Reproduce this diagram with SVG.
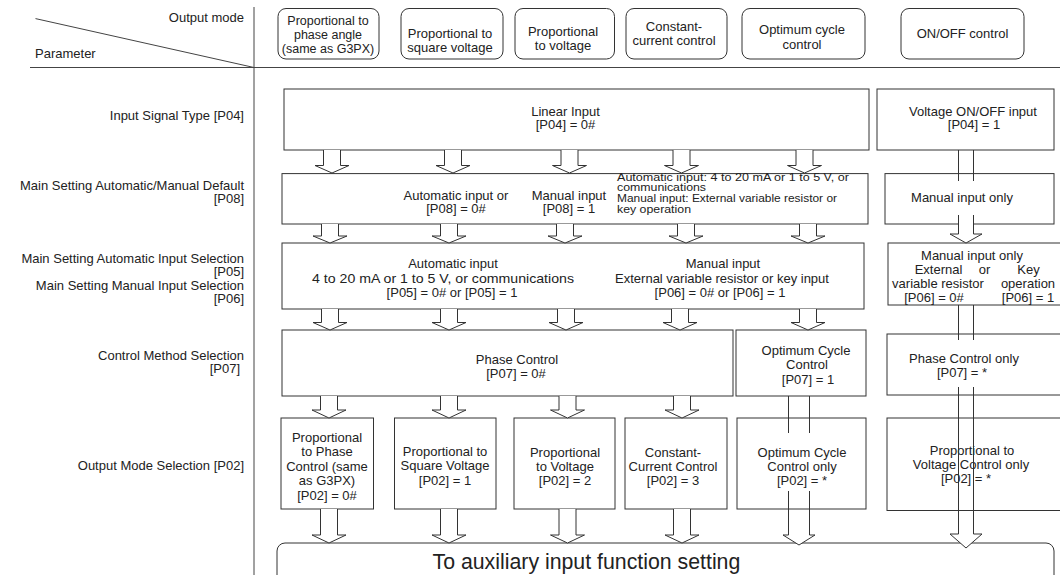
<svg xmlns="http://www.w3.org/2000/svg" width="1060" height="575" viewBox="0 0 1060 575">
<style>
text{font-family:"Liberation Sans",Arial,sans-serif;font-size:13px;fill:#222}
.c{text-anchor:middle}
.r{text-anchor:end}
.s{font-size:11px}
.box{fill:#fff;stroke:#333;stroke-width:1}
.hdr{fill:#fff;stroke:#333;stroke-width:1}
.ln{fill:none;stroke:#444;stroke-width:1}
.arr{fill:#fff;stroke:#333;stroke-width:1}
.sh{fill:none;stroke:#333;stroke-width:1}
</style>
<rect width="1060" height="575" fill="#fff"/>
<g id="grid">
<line class="ln" x1="35.5" y1="18.6" x2="254" y2="67.5"/>
<line class="ln" x1="30" y1="67.5" x2="1060" y2="67.5"/>
<line class="ln" x1="254" y1="7" x2="254" y2="575"/>
<text class="r" x="244" y="22">Output mode</text>
<text x="35" y="58">Parameter</text>
</g>
<g id="labels">
<text class="r" x="244" y="120">Input Signal Type [P04]</text>
<text class="r" x="244" y="190">Main Setting Automatic/Manual Default</text>
<text class="r" x="244" y="203">[P08]</text>
<text class="r" x="244" y="263">Main Setting Automatic Input Selection</text>
<text class="r" x="244" y="276">[P05]</text>
<text class="r" x="244" y="289.5">Main Setting Manual Input Selection</text>
<text class="r" x="244" y="302.5">[P06]</text>
<text class="r" x="244" y="360">Control Method Selection</text>
<text class="r" x="240" y="373">[P07]</text>
<text class="r" x="244" y="469.5">Output Mode Selection [P02]</text>
</g>
<g id="hdr1"><rect class="hdr" x="278" y="8.5" width="101" height="50.5" rx="8"/>
<text class="c" style="font-size:12.5px" x="328" y="24.5">Proportional to</text>
<text class="c" style="font-size:12.5px" x="328" y="38.5">phase angle</text>
<text class="c" style="font-size:12.5px" x="328" y="52.5">(same as G3PX)</text></g>
<g id="hdr2"><rect class="hdr" x="401" y="8.5" width="102" height="50.5" rx="8"/>
<text class="c" x="450" y="38">Proportional to</text>
<text class="c" x="450" y="51.5">square voltage</text></g>
<g id="hdr3"><rect class="hdr" x="515" y="8.5" width="99.5" height="50.5" rx="8"/>
<text class="c" x="563" y="35.5">Proportional</text>
<text class="c" x="563" y="50">to voltage</text></g>
<g id="hdr4"><rect class="hdr" x="626" y="8.5" width="101" height="50.5" rx="8"/>
<text class="c" x="674" y="30.5">Constant-</text>
<text class="c" x="674" y="45">current control</text></g>
<g id="hdr5"><rect class="hdr" x="742" y="8.5" width="123" height="50.5" rx="8"/>
<text class="c" x="802" y="34">Optimum cycle</text>
<text class="c" x="802" y="49">control</text></g>
<g id="hdr6"><rect class="hdr" x="901" y="8.5" width="123" height="50.5" rx="8"/>
<text class="c" x="962.5" y="38">ON/OFF control</text></g>

<g id="linear"><rect class="box" x="284" y="89" width="585" height="61"/>
<text class="c" x="565.5" y="116">Linear Input</text>
<text class="c" x="565.5" y="129">[P04] = 0#</text></g>
<g id="voltage"><rect class="box" x="877" y="89" width="177" height="61"/>
<text class="c" x="973" y="116">Voltage ON/OFF input</text>
<text class="c" x="974" y="129">[P04] = 1</text></g>

<g id="p08"><rect class="box" x="282" y="173.6" width="586" height="50.4"/>
<text class="c" x="456" y="199.5">Automatic input or</text>
<text class="c" x="456" y="213">[P08] = 0#</text>
<text class="c" x="569" y="199.5">Manual input</text>
<text class="c" x="569" y="213">[P08] = 1</text>
<text class="s" x="617" y="180.5" textLength="232" lengthAdjust="spacingAndGlyphs">Automatic input: 4 to 20 mA or 1 to 5 V, or</text>
<text class="s" x="617" y="191" textLength="89" lengthAdjust="spacingAndGlyphs">communications</text>
<text class="s" x="617" y="202" textLength="220" lengthAdjust="spacingAndGlyphs">Manual input: External variable resistor or</text>
<text class="s" x="617" y="212.5" textLength="74" lengthAdjust="spacingAndGlyphs">key operation</text></g>
<g id="manonly"><rect class="box" x="885" y="173.6" width="169" height="50.4"/>
<text class="c" x="962" y="201.5">Manual input only</text></g>

<g id="p05p06"><rect class="box" x="282" y="243" width="582" height="66"/>
<text class="c" x="453" y="268">Automatic input</text>
<text x="312" y="282.5" textLength="262" lengthAdjust="spacingAndGlyphs">4 to 20 mA or 1 to 5 V, or communications</text>
<text class="c" x="452" y="297">[P05] = 0# or [P05] = 1</text>
<text class="c" x="723" y="268">Manual input</text>
<text class="c" x="722" y="282.5">External variable resistor or key input</text>
<text class="c" x="720" y="297">[P06] = 0# or [P06] = 1</text></g>
<g id="p06only"><rect class="box" x="888" y="243" width="180" height="62"/>
<text class="c" x="972" y="259.5">Manual input only</text>
<text class="c" x="938.5" y="274">External</text>
<text class="c" x="984.5" y="274">or</text>
<text class="c" x="1028.5" y="274">Key</text>
<text class="c" x="938" y="288">variable resistor</text>
<text class="c" x="1028" y="288">operation</text>
<text class="c" x="934" y="302">[P06] = 0#</text>
<text class="c" x="1028" y="302">[P06] = 1</text></g>

<g id="phase"><rect class="box" x="282" y="330" width="451" height="66"/>
<text class="c" x="517" y="364">Phase Control</text>
<text class="c" x="516" y="378">[P07] = 0#</text></g>
<g id="optcyc"><rect class="box" x="736" y="330" width="130" height="66"/>
<text class="c" x="806" y="354.5">Optimum Cycle</text>
<text class="c" x="807" y="369">Control</text>
<text class="c" x="808" y="383.5">[P07] = 1</text></g>
<g id="phaseonly"><rect class="box" x="887" y="334" width="180" height="61"/>
<text class="c" x="964" y="362.5">Phase Control only</text>
<text class="c" x="962" y="376.5">[P07] = *</text></g>

<g id="out0"><rect class="box" x="281" y="418" width="92.5" height="91"/>
<text class="c" x="327" y="441.5">Proportional</text>
<text class="c" x="327" y="456">to Phase</text>
<text class="c" x="327" y="470.5">Control (same</text>
<text class="c" x="327" y="485">as G3PX)</text>
<text class="c" x="327" y="499.5">[P02] = 0#</text></g>
<g id="out1"><rect class="box" x="394.5" y="418" width="101.5" height="91"/>
<text class="c" x="445" y="455.5">Proportional to</text>
<text class="c" x="445" y="470">Square Voltage</text>
<text class="c" x="445" y="484.5">[P02] = 1</text></g>
<g id="out2"><rect class="box" x="514" y="418" width="101" height="91"/>
<text class="c" x="565" y="456.5">Proportional</text>
<text class="c" x="565" y="470.5">to Voltage</text>
<text class="c" x="565" y="484.5">[P02] = 2</text></g>
<g id="out3"><rect class="box" x="625" y="418" width="102" height="91"/>
<text class="c" x="673" y="456.5">Constant-</text>
<text class="c" x="673" y="470.5">Current Control</text>
<text class="c" x="673" y="484.5">[P02] = 3</text></g>
<g id="out4"><rect class="box" x="737" y="418" width="129" height="91"/>
<text class="c" x="802" y="456.5">Optimum Cycle</text>
<text class="c" x="802" y="470.5">Control only</text>
<text class="c" x="802" y="484.5">[P02] = *</text></g>
<g id="out5"><rect class="box" x="887" y="418" width="180" height="92.5"/>
<text class="c" x="972" y="454.5">Proportional to</text>
<text class="c" x="971" y="468.5">Voltage Control only</text>
<text class="c" x="966" y="482.5">[P02] = *</text></g>

<g id="aux"><rect class="box" x="277" y="543" width="777" height="50" rx="8"/>
<text style="font-size:21.3px" x="432.5" y="569">To auxiliary input function setting</text></g>

<g id="connectors">
<path class="arr" d="M323.5,150 V165.5 H315 L332,173 L349,165.5 H340.5 V150"/>
<path class="arr" d="M444.5,150 V165.5 H436 L453,173 L470,165.5 H461.5 V150"/>
<path class="arr" d="M561,150 V165.5 H552.5 L569.5,173 L586.5,165.5 H578 V150"/>
<path class="arr" d="M673,150 V165.5 H664.5 L681.5,173 L698.5,165.5 H690 V150"/>
<path class="arr" d="M796,150 V165.5 H787.5 L804.5,173 L821.5,165.5 H813 V150"/>

<path class="arr" d="M321.5,224 V236 H313 L330,243 L347,236 H338.5 V224"/>
<path class="arr" d="M440.5,224 V236 H432 L449,243 L466,236 H457.5 V224"/>
<path class="arr" d="M556.5,224 V236 H548 L565,243 L582,236 H573.5 V224"/>
<path class="arr" d="M677.5,224 V236 H669 L686,243 L703,236 H694.5 V224"/>
<path class="arr" d="M799.5,224 V236 H791 L808,243 L825,236 H816.5 V224"/>

<path class="arr" d="M321.5,309 V322.5 H313 L330,330 L347,322.5 H338.5 V309"/>
<path class="arr" d="M440.5,309 V322.5 H432 L449,330 L466,322.5 H457.5 V309"/>
<path class="arr" d="M557.5,309 V322.5 H549 L566,330 L583,322.5 H574.5 V309"/>
<path class="arr" d="M671.5,309 V322.5 H663 L680,330 L697,322.5 H688.5 V309"/>
<path class="arr" d="M799.5,309 V322.5 H791 L808,330 L825,322.5 H816.5 V309"/>

<path class="arr" d="M320.5,396 V410 H312 L329,418 L346,410 H337.5 V396"/>
<path class="arr" d="M440.5,396 V410 H432 L449,418 L466,410 H457.5 V396"/>
<path class="arr" d="M559,396 V410 H550.5 L567.5,418 L584.5,410 H576 V396"/>
<path class="arr" d="M673.5,396 V410 H665 L682,418 L699,410 H690.5 V396"/>

<path class="arr" d="M320.5,509 V535 H312 L329,543 L346,535 H337.5 V509"/>
<path class="arr" d="M440.5,509 V535 H432 L449,543 L466,535 H457.5 V509"/>
<path class="arr" d="M559,509 V535 H550.5 L567.5,543 L584.5,535 H576 V509"/>
<path class="arr" d="M673.5,509 V535 H665 L682,543 L699,535 H690.5 V509"/>

<path class="sh" d="M788.5,396 V433 M809.5,396 V433 M788.5,491 V535 M809.5,491 V535"/>
<path class="arr" d="M788.5,535 H783 L799,545 L815,535 H809.5"/>

<path class="sh" d="M958.5,150 V181 M973.5,150 V181"/>
<path class="arr" d="M958.5,215 V234 H950 L966,243 L982,234 H973.5 V215"/>
<path class="sh" d="M958.5,305 V340 M973.5,305 V340"/>
<path class="sh" d="M958.5,387 V534 M973.5,387 V534"/>
<path class="arr" d="M958.5,534 H950 L966,548 L982,534 H973.5"/>
</g>
</svg>
